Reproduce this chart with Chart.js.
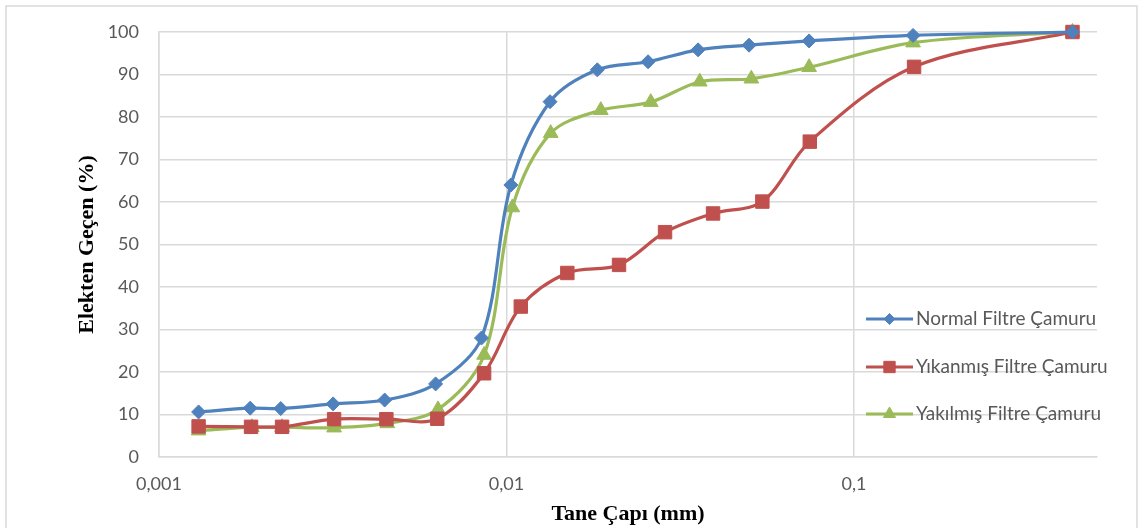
<!DOCTYPE html>
<html>
<head>
<meta charset="utf-8">
<script src="https://cdn.jsdelivr.net/npm/chart.js@4/dist/chart.umd.min.js"></script>
<style>
  html, body { margin: 0; padding: 0; background: #ffffff; }
  #wrap { width: 1139px; height: 528px; }
</style>
</head>
<body>
<div id="wrap"><canvas id="c" width="1139" height="528"></canvas></div>
<script>
// Grain size (mm) and percent passing for each sample
const seriesNames = ['Normal Filtre Çamuru', 'Yıkanmış Filtre Çamuru', 'Yakılmış Filtre Çamuru'];

const normalSize = [0.00130, 0.00183, 0.00224, 0.00317, 0.00446, 0.00625, 0.00847, 0.01029, 0.01334, 0.01825, 0.02554, 0.03557, 0.04986, 0.07423, 0.1478, 0.425];
const normalPass = [10.6, 11.5, 11.4, 12.5, 13.4, 17.2, 28.0, 64.0, 83.6, 91.1, 93.0, 95.8, 96.9, 97.9, 99.2, 100];

const washedSize = [0.00130, 0.00184, 0.00226, 0.00319, 0.00451, 0.00632, 0.00862, 0.01099, 0.01496, 0.02107, 0.02858, 0.03929, 0.05446, 0.07457, 0.1488, 0.425];
const washedPass = [7.2, 7.1, 7.1, 8.9, 8.9, 9.0, 19.7, 35.4, 43.3, 45.2, 52.9, 57.3, 60.1, 74.2, 91.8, 100];

const burnedSize = [0.00130, 0.00185, 0.00226, 0.00319, 0.00454, 0.00635, 0.00862, 0.01039, 0.01340, 0.01867, 0.02600, 0.03597, 0.05063, 0.07423, 0.1478, 0.425];
const burnedPass = [6.2, 7.0, 7.0, 6.9, 7.9, 11.2, 24.0, 58.7, 76.2, 81.6, 83.5, 88.3, 89.0, 91.7, 97.5, 100];

const xTicks = [0.001, 0.01, 0.1];
const yTicks = [0, 10, 20, 30, 40, 50, 60, 70, 80, 90, 100];

const colors = ['#4F81BD', '#C0504D', '#9BBB59'];
const markers = [
  { style: 'rectRot', radius: 7, legendRadius: 5.5 },
  { style: 'rect', radius: 9.5, legendRadius: 8 },
  { style: 'triangle', radius: 8.5, legendRadius: 7 }
];

const toPoints = (xs, ys) => xs.map((x, i) => ({ x: x, y: ys[i] }));
const seriesData = [
  toPoints(normalSize, normalPass),
  toPoints(washedSize, washedPass),
  toPoints(burnedSize, burnedPass)
];

const datasets = seriesNames.map((name, i) => ({
  label: name,
  data: seriesData[i],
  borderColor: colors[i],
  backgroundColor: colors[i],
  borderWidth: 3.2,
  pointStyle: markers[i].style,
  pointRadius: markers[i].radius,
  pointHoverRadius: markers[i].radius,
  pointBorderWidth: 1,
  pointBackgroundColor: colors[i],
  pointBorderColor: colors[i],
  tension: 0.33,
  fill: false,
  clip: false
}));

const labelColor = '#595959';
const gridColor = '#d9d9d9';
const tickFont = { family: 'Lato, "Open Sans", sans-serif', size: 18 };
const legendFont = '19px Lato, "Open Sans", sans-serif';
const titleFont = { family: '"Liberation Serif", "Times New Roman", serif', size: 22, weight: 'bold' };

// Outer frame of the chart
const framePlugin = {
  id: 'frame',
  beforeDraw(chart) {
    const ctx = chart.ctx;
    ctx.save();
    ctx.fillStyle = '#ffffff';
    ctx.fillRect(0, 0, chart.width, chart.height);
    ctx.strokeStyle = gridColor;
    ctx.lineWidth = 1.5;
    ctx.strokeRect(6, 6, 1131, 600);
    ctx.restore();
  }
};

// Legend drawn inside the plot, right side
const sideLegend = {
  id: 'sideLegend',
  afterDraw(chart) {
    const ctx = chart.ctx;
    const x0 = 866, x1 = 913, textX = 916;
    const ys = [319, 367, 414];
    ctx.save();
    chart.data.datasets.forEach((ds, i) => {
      const y = ys[i];
      ctx.strokeStyle = ds.borderColor;
      ctx.lineWidth = 3;
      ctx.beginPath();
      ctx.moveTo(x0, y);
      ctx.lineTo(x1, y);
      ctx.stroke();
      ctx.fillStyle = ds.borderColor;
      ctx.strokeStyle = ds.borderColor;
      ctx.lineWidth = 1;
      Chart.helpers.drawPoint(ctx, {
        pointStyle: markers[i].style,
        radius: markers[i].legendRadius,
        rotation: 0,
        borderWidth: 1
      }, (x0 + x1) / 2, y);
      ctx.fillStyle = labelColor;
      ctx.font = legendFont;
      ctx.textBaseline = 'middle';
      ctx.textAlign = 'left';
      ctx.fillText(ds.label, textX, y);
    });
    ctx.restore();
  }
};

new Chart(document.getElementById('c'), {
  type: 'line',
  data: { datasets: datasets },
  plugins: [framePlugin, sideLegend],
  options: {
    responsive: false,
    animation: false,
    events: [],
    layout: { padding: { top: 32, right: 42, left: 0, bottom: 0 } },
    plugins: {
      legend: { display: false },
      tooltip: { enabled: false }
    },
    scales: {
      x: {
        type: 'logarithmic',
        min: 0.001,
        max: 0.5,
        afterBuildTicks(scale) { scale.ticks = xTicks.map(v => ({ value: v })); },
        afterFit(scale) { scale.height = 71; },
        ticks: {
          color: labelColor,
          font: tickFont,
          padding: 16,
          autoSkip: false,
          maxRotation: 0,
          callback: (v) => String(v).replace('.', ',')
        },
        grid: { color: gridColor, lineWidth: 1.5, drawTicks: false },
        border: { color: gridColor, width: 1.5 },
        title: {
          display: true,
          text: 'Tane Çapı (mm)',
          color: '#000000',
          font: titleFont,
          padding: { top: 0, bottom: 0 }
        }
      },
      y: {
        type: 'linear',
        min: 0,
        max: 100,
        afterBuildTicks(scale) { scale.ticks = yTicks.map(v => ({ value: v })); },
        afterFit(scale) { scale.width = 159; },
        ticks: {
          color: labelColor,
          font: tickFont,
          padding: 20
        },
        grid: { color: gridColor, lineWidth: 1.5, drawTicks: false },
        border: { color: gridColor, width: 1.5 },
        title: {
          display: true,
          text: 'Elekten Geçen (%)',
          color: '#000000',
          font: titleFont,
          padding: { top: 74, bottom: 0 }
        }
      }
    }
  }
});
</script>
</body>
</html>
